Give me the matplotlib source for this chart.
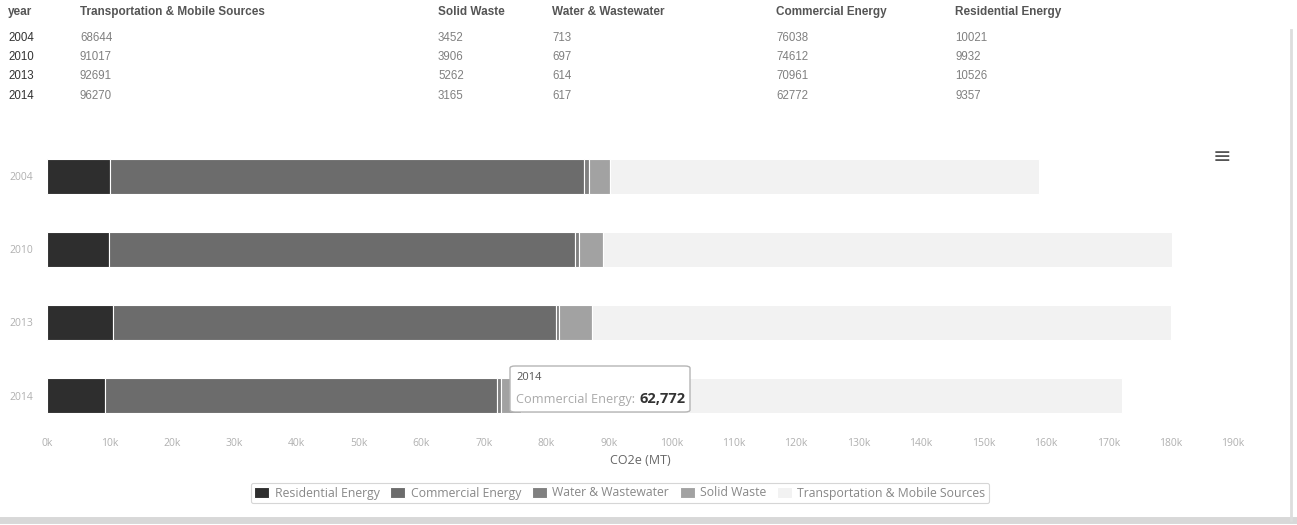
import matplotlib.pyplot as plt
from matplotlib.patches import FancyBboxPatch
import numpy as np

years = ["2004", "2010", "2013", "2014"]
transportation = [68644, 91017, 92691, 96270]
solid_waste = [3452, 3906, 5262, 3165]
water = [713, 697, 614, 617]
commercial = [76038, 74612, 70961, 62772]
residential = [10021, 9932, 10526, 9357]

table_headers = ["year", "Transportation & Mobile Sources", "Solid Waste",
                 "Water & Wastewater", "Commercial Energy", "Residential Energy"]
x_ticks = list(range(0, 190001, 10000))
x_tick_labels = [f"{t // 1000}k" for t in x_ticks]

# stacking order as drawn left to right
series = [
    ("Residential Energy", residential, "#2e2e2e"),
    ("Commercial Energy", commercial, "#6c6c6c"),
    ("Water & Wastewater", water, "#808080"),
    ("Solid Waste", solid_waste, "#a2a2a2"),
    ("Transportation & Mobile Sources", transportation, "#f2f2f2"),
]

W, H = 1297, 525
fig = plt.figure(figsize=(W / 100, H / 100), dpi=100)
plt.rcParams['font.family'] = ['Open Sans', 'DejaVu Sans']

# ---- table at the top ----
narrow = ['Liberation Sans Narrow', 'Liberation Sans', 'DejaVu Sans']
col_x = [8, 80, 438, 552, 776, 955]
header_y = 12
row_y = [38, 57, 76, 96]
for cx, h in zip(col_x, table_headers):
    fig.text(cx / W, 1 - header_y / H, h, family=narrow, fontsize=8.5,
             fontweight='bold', color='#555555', va='center', ha='left')
columns = [years, transportation, solid_waste, water, commercial, residential]
for ci, (cx, col) in enumerate(zip(col_x, columns)):
    for ry, v in zip(row_y, col):
        fig.text(cx / W, 1 - ry / H, str(v), family=narrow, fontsize=8.3,
                 color='#333333' if ci == 0 else '#808080', va='center', ha='left')

# ---- stacked bar chart ----
ax = fig.add_axes([47 / W, 1 - 432 / H, (1233 - 47) / W, 292 / H])
y = np.arange(len(years))
left = np.zeros(len(years))
for name, vals, color in series:
    ax.barh(y, vals, left=left, height=0.47, color=color, edgecolor='white',
            linewidth=0.8, label=name)
    left += np.array(vals)

ax.set_xlim(0, 190000)
ax.set_ylim(3.5, -0.5)
ax.set_yticks(y)
ax.set_yticklabels(years)
ax.set_xticks(x_ticks)
ax.set_xticklabels(x_tick_labels)
ax.tick_params(axis='both', length=0, labelsize=7.5, colors='#b0b0b0')
ax.tick_params(axis='y', pad=10)
ax.tick_params(axis='x', pad=4)
for s in ax.spines.values():
    s.set_visible(False)
ax.set_xlabel("CO2e (MT)", fontsize=9, color='#666666', labelpad=4)

# tooltip on the 2014 commercial bar
tip_x0, tip_y0, tip_w, tip_h = 510, 366, 180, 46
fig.patches.append(FancyBboxPatch((tip_x0 / W, 1 - (tip_y0 + tip_h) / H), tip_w / W, tip_h / H,
                                  boxstyle="round,pad=0,rounding_size=0.004",
                                  transform=fig.transFigure, facecolor='white',
                                  edgecolor='#b5b5b5', linewidth=1, zorder=5))
fig.text(516 / W, 1 - 378 / H, years[3], fontsize=8, color='#555555', va='center', zorder=6)
fig.text(516 / W, 1 - 399 / H, "Commercial Energy:", fontsize=9.2, color='#aaaaaa',
         va='center', zorder=6)
fig.text(640 / W, 1 - 399 / H, f"{commercial[3]:,}", fontsize=10.5, fontweight='bold',
         color='#333333', va='center', zorder=6)

# legend
leg = fig.legend(loc='center', bbox_to_anchor=(620 / W, 1 - 493 / H), ncol=5,
                 fontsize=8.8, frameon=True, handlelength=1.2, handleheight=1.0,
                 handletextpad=0.45, columnspacing=0.9, borderpad=0.3)
leg.get_frame().set_edgecolor('#cccccc')
leg.get_frame().set_linewidth(0.8)
for t in leg.get_texts():
    t.set_color('#888888')

# menu icon
fig.text(1222 / W, 1 - 157 / H, "\u2261", fontsize=16, color='#555555',
         ha='center', va='center', family='DejaVu Sans')

# page edges of the screenshot
fig.add_artist(plt.Line2D([0, 1], [5 / H, 5 / H], transform=fig.transFigure,
                          color='#d8d8d8', linewidth=5))
fig.add_artist(plt.Line2D([1291 / W, 1291 / W], [5 / H, 1 - 30 / H], transform=fig.transFigure,
                          color='#dddddd', linewidth=2))

fig.savefig("out.png", dpi=100)
